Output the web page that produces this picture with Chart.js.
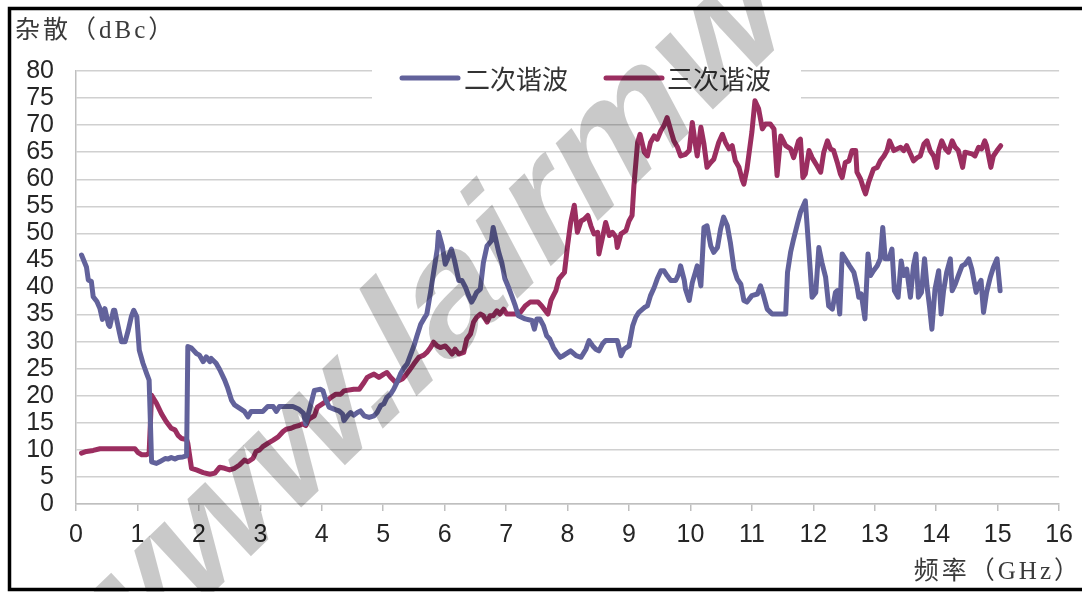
<!DOCTYPE html>
<html>
<head>
<meta charset="utf-8">
<script src="https://cdn.jsdelivr.net/npm/chart.js@4.4.1/dist/chart.umd.min.js"></script>
<style>
html,body{margin:0;padding:0;background:#fff;}
#wrap{width:1082px;height:592px;position:relative;}
canvas{display:block;}
</style>
</head>
<body>
<div id="wrap"><canvas id="c" width="1082" height="592"></canvas></div>
<script>
// ---- data ----
const seriesNames = ['二次谐波', '三次谐波'];
const yTitle = '杂散（dBc）';
const xTitle = '频率（GHz）';
const watermarkText = 'www.lairmw';

const freq2 = [0.09,0.17,0.20,0.25,0.28,0.34,0.39,0.43,0.47,0.53,0.55,0.61,0.63,0.71,0.74,0.80,0.85,0.90,0.94,0.99,
1.03,1.09,1.15,1.19,1.23,1.31,1.36,1.45,1.50,1.55,1.61,1.66,1.74,1.80,1.82,1.88,1.96,2.01,2.07,2.12,
2.18,2.20,2.28,2.34,2.42,2.47,2.53,2.58,2.66,2.74,2.80,2.85,3.04,3.12,3.21,3.26,3.31,3.53,3.63,3.70,
3.74,3.79,3.88,3.98,4.02,4.06,4.12,4.23,4.28,4.34,4.36,4.42,4.47,4.52,4.58,4.63,4.69,4.77,4.85,4.90,
4.96,5.01,5.06,5.12,5.17,5.23,5.28,5.34,5.39,5.44,5.50,5.55,5.61,5.66,5.71,5.77,5.82,5.88,5.90,5.96,
6.01,6.06,6.11,6.16,6.23,6.28,6.34,6.39,6.44,6.47,6.52,6.58,6.63,6.69,6.76,6.79,6.83,6.88,6.93,6.98,
7.04,7.09,7.15,7.20,7.31,7.42,7.46,7.50,7.55,7.61,7.66,7.71,7.77,7.82,7.88,7.93,8.05,8.14,8.22,8.30,
8.35,8.41,8.46,8.51,8.57,8.62,8.81,8.87,8.92,9.00,9.06,9.11,9.16,9.25,9.30,9.35,9.41,9.46,9.52,9.57,
9.62,9.68,9.76,9.81,9.84,9.90,9.92,9.98,10.03,10.08,10.11,10.14,10.17,10.22,10.27,10.33,10.38,10.44,10.49,10.54,
10.60,10.65,10.71,10.76,10.82,10.87,10.92,11.00,11.09,11.14,11.19,11.25,11.33,11.55,11.58,11.63,11.68,11.74,11.79,11.87,
11.93,11.98,12.04,12.09,12.14,12.20,12.25,12.31,12.36,12.39,12.43,12.47,12.52,12.59,12.66,12.71,12.74,12.78,12.84,12.89,
12.93,12.98,13.04,13.09,13.13,13.17,13.23,13.28,13.32,13.38,13.43,13.47,13.52,13.58,13.63,13.67,13.71,13.76,13.81,13.85,
13.89,13.93,13.98,14.04,14.08,14.12,14.17,14.23,14.26,14.31,14.36,14.42,14.47,14.53,14.58,14.65,14.69,14.73,14.77,14.82,
14.88,14.93,14.99,15.04];
const harm2 = [46.0,43.8,41.4,41.1,38.3,37.4,36.1,34.1,36.1,33.1,32.8,35.8,35.8,31.5,30.0,30.0,32.1,34.6,35.8,34.6,
28.4,26.0,24.1,22.9,7.8,7.5,7.8,8.4,8.3,8.6,8.3,8.6,8.7,8.9,29.1,28.8,27.8,27.5,26.3,27.2,
26.3,26.9,26.0,24.8,22.9,21.4,19.2,18.3,17.7,17.1,16.1,17.1,17.1,18.0,18.0,17.1,18.0,18.0,17.5,16.8,
14.8,17.0,21.0,21.2,20.9,19.4,17.9,17.4,17.2,16.6,15.4,16.3,16.9,16.4,16.9,17.2,16.3,16.0,16.3,16.9,
18.2,18.5,19.7,20.3,21.2,22.6,24.0,25.2,25.9,27.4,29.2,31.1,33.2,34.2,35.1,39.1,42.8,47.1,50.2,47.7,
44.3,45.6,47.1,45.0,41.3,41.3,40.0,38.5,37.3,37.9,39.1,39.7,44.6,47.7,48.6,51.1,49.0,46.5,44.6,41.6,
40.0,38.5,36.6,34.8,34.2,33.9,32.3,34.2,34.2,32.9,31.1,30.5,28.9,28.0,27.1,27.4,28.3,27.4,27.1,28.6,
30.2,29.2,28.6,28.3,29.6,30.2,30.2,27.4,28.6,29.2,32.9,34.5,35.4,36.3,36.6,38.5,40.0,41.6,43.1,43.1,
42.2,41.3,41.3,42.5,44.0,41.3,39.7,37.6,40.9,42.8,44.0,42.2,40.3,51.1,51.4,47.7,46.5,47.4,50.8,53.0,
51.4,48.3,43.4,41.6,40.6,37.6,37.3,38.5,38.8,40.3,38.5,36.0,35.1,35.1,42.8,46.5,49.0,51.7,53.9,56.0,
46.5,38.2,39.1,47.4,44.6,41.9,36.6,36.0,39.1,39.4,35.1,46.2,45.3,44.0,42.8,40.3,38.2,38.8,34.2,46.2,
42.2,43.1,44.0,45.3,51.1,45.3,45.3,47.1,39.4,38.2,44.9,42.2,43.4,38.2,44.0,46.2,38.2,39.1,45.3,40.3,
36.6,32.3,39.7,43.1,35.1,39.4,42.8,45.3,39.4,40.6,42.2,44.0,44.3,45.3,43.4,39.1,40.6,41.3,35.4,39.1,
41.9,43.7,45.3,39.4];

const freq3 = [0.09,0.17,0.28,0.39,0.96,1.01,1.07,1.15,1.19,1.23,1.31,1.39,1.47,1.55,1.61,1.66,1.72,1.80,1.82,1.88,
1.96,2.07,2.18,2.26,2.34,2.42,2.50,2.58,2.66,2.74,2.80,2.88,2.93,2.99,3.04,3.12,3.21,3.29,3.37,3.42,
3.50,3.56,3.63,3.69,3.74,3.79,3.88,3.93,4.01,4.09,4.15,4.23,4.31,4.36,4.52,4.61,4.69,4.74,4.79,4.85,
4.93,5.01,5.06,5.12,5.20,5.25,5.31,5.36,5.42,5.50,5.58,5.66,5.71,5.77,5.82,5.88,5.93,6.01,6.06,6.12,
6.17,6.23,6.31,6.36,6.42,6.47,6.52,6.58,6.63,6.69,6.74,6.79,6.85,6.90,6.96,7.01,7.17,7.23,7.31,7.39,
7.52,7.58,7.68,7.73,7.81,7.86,7.95,8.00,8.05,8.11,8.16,8.22,8.27,8.33,8.38,8.43,8.49,8.51,8.57,8.62,
8.68,8.73,8.79,8.81,8.87,8.95,9.00,9.05,9.08,9.14,9.18,9.25,9.30,9.35,9.41,9.46,9.52,9.57,9.62,9.68,
9.73,9.79,9.84,9.92,9.98,10.03,10.08,10.11,10.17,10.22,10.27,10.33,10.38,10.46,10.52,10.57,10.63,10.68,10.73,10.79,
10.84,10.87,10.92,11.00,11.05,11.11,11.17,11.22,11.30,11.36,11.41,11.47,11.55,11.63,11.68,11.76,11.79,11.83,11.87,11.93,
11.98,12.06,12.12,12.17,12.23,12.28,12.33,12.39,12.44,12.47,12.52,12.58,12.63,12.69,12.71,12.77,12.82,12.85,12.90,12.98,
13.04,13.09,13.15,13.20,13.24,13.31,13.36,13.42,13.47,13.52,13.58,13.63,13.69,13.74,13.80,13.85,13.90,13.96,14.01,14.04,
14.09,14.15,14.20,14.26,14.31,14.36,14.43,14.47,14.58,14.63,14.69,14.74,14.79,14.82,14.89,14.93,14.99,15.05];
const harm3 = [9.4,9.7,9.9,10.2,10.2,9.5,9.1,9.1,9.4,20.1,18.6,16.7,15.2,14.0,13.7,12.7,12.1,11.9,11.2,6.6,
6.3,5.8,5.5,5.7,6.8,6.6,6.3,6.6,7.2,8.1,7.8,8.4,9.7,10.0,10.6,11.2,11.8,12.4,13.4,13.8,
14.0,14.3,14.5,14.8,14.5,15.7,16.3,17.9,18.5,19.1,19.7,20.3,20.3,20.9,21.2,21.2,22.5,23.4,23.7,24.0,
23.4,24.0,24.3,23.4,22.5,22.8,23.1,23.7,24.6,25.9,27.1,27.5,28.0,28.9,29.9,29.2,28.9,29.2,28.6,27.7,
28.6,27.7,28.0,30.5,31.4,33.6,34.5,35.1,34.8,33.6,34.8,34.8,35.7,35.1,36.0,35.1,35.1,35.4,36.6,37.3,
37.3,36.6,35.1,37.6,39.4,41.6,42.8,47.7,52.0,55.2,50.2,52.3,52.6,53.3,51.4,49.9,50.2,46.2,49.3,52.0,
49.6,50.2,49.3,47.4,49.9,50.5,52.3,53.3,58.8,66.8,68.3,65.0,64.3,66.8,68.0,67.4,69.0,69.9,71.4,69.0,
67.1,65.9,64.3,64.6,65.3,70.5,66.5,64.3,69.6,66.5,62.2,63.1,63.7,66.8,68.3,66.8,65.6,66.2,63.4,62.2,
60.0,59.1,61.9,68.7,74.5,73.0,69.3,70.2,70.2,69.3,60.7,68.0,66.2,65.6,64.0,67.1,67.4,60.3,61.0,65.3,
64.0,62.5,61.3,65.0,67.1,65.6,65.3,63.1,61.0,60.3,63.1,63.4,65.3,65.3,61.3,60.0,58.2,57.3,59.4,61.9,
62.2,63.4,64.3,65.3,67.1,65.3,65.6,65.9,65.3,66.2,64.7,63.4,64.0,64.3,66.5,67.1,65.3,64.3,62.2,65.3,
67.1,65.6,65.0,67.1,65.9,65.3,62.2,65.0,64.7,64.3,65.9,65.6,67.1,66.2,62.2,64.3,65.3,66.2];

const xTicks = [0,1,2,3,4,5,6,7,8,9,10,11,12,13,14,15,16];
const yTicks = [0,5,10,15,20,25,30,35,40,45,50,55,60,65,70,75,80];

const colors = ['#62629b', '#9b2e60'];

const toPts = (xs, ys) => xs.map((x, i) => ({x: x, y: ys[i]}));

const deco = {
  id: 'deco',
  beforeDatasetsDraw(chart) {
    const ctx = chart.ctx;
    ctx.save();
    ctx.fillStyle = '#ffffff';
    ctx.fillRect(372, 58, 429, 44);
    ctx.restore();
  },
  afterDraw(chart) {
    const ctx = chart.ctx;
    ctx.save();
    // axis titles
    ctx.fillStyle = '#3a3a3a';
    ctx.textBaseline = 'middle';
    ctx.textAlign = 'left';
    ctx.font = '25px "Liberation Serif", "Noto Sans CJK SC", serif';
    ctx.letterSpacing = '3px';
    ctx.fillText(yTitle, 15, 31);
    ctx.textAlign = 'right';
    ctx.fillText(xTitle, 1082, 572);
    ctx.letterSpacing = '0px';
    // legend
    const items = [{x: 402, tx: 464}, {x: 606, tx: 667}];
    ctx.textAlign = 'left';
    ctx.font = '26px "Noto Sans CJK SC", sans-serif';
    items.forEach((it, i) => {
      ctx.strokeStyle = colors[i];
      ctx.lineWidth = 5;
      ctx.lineCap = 'round';
      ctx.beginPath();
      ctx.moveTo(it.x, 78);
      ctx.lineTo(it.x + 56, 78);
      ctx.stroke();
      ctx.fillStyle = '#333333';
      ctx.fillText(seriesNames[i], it.tx, 79);
    });
    // watermark
    ctx.save();
    ctx.setTransform(0.719, -0.695, 0.469, 0.883, 97, 705);
    ctx.font = 'bold 168px "Liberation Sans", Arial, sans-serif';
    ctx.fillStyle = 'rgba(0,0,0,0.21)';
    ctx.textAlign = 'left';
    ctx.textBaseline = 'alphabetic';
    ctx.fillText(watermarkText, 0, 0);
    ctx.restore();
    // frame
    ctx.strokeStyle = '#000';
    ctx.lineWidth = 3.5;
    ctx.strokeRect(9.5, 8.5, 1100, 581);
    ctx.restore();
  }
};

new Chart(document.getElementById('c'), {
  type: 'line',
  data: {
    datasets: [
      {label: seriesNames[0], data: toPts(freq2, harm2), borderColor: colors[0], backgroundColor: colors[0],
       borderWidth: 5, pointRadius: 0, tension: 0, borderJoinStyle: 'round', borderCapStyle: 'round'},
      {label: seriesNames[1], data: toPts(freq3, harm3), borderColor: colors[1], backgroundColor: colors[1],
       borderWidth: 5, pointRadius: 0, tension: 0, borderJoinStyle: 'round', borderCapStyle: 'round'}
    ]
  },
  options: {
    responsive: false,
    animation: false,
    devicePixelRatio: 1,
    layout: {padding: {left: 0, right: 19, top: 71, bottom: 0}},
    plugins: {legend: {display: false}, tooltip: {enabled: false}, title: {display: false}},
    scales: {
      x: {
        type: 'linear', min: 0, max: 16,
        afterFit: s => { s.height = 88; },
        afterBuildTicks: s => { s.ticks = xTicks.map(v => ({value: v})); },
        ticks: {font: {family: '"Liberation Sans", Arial, sans-serif', size: 25}, color: '#262626', padding: 9, maxRotation: 0, autoSkip: false},
        grid: {drawOnChartArea: false, drawTicks: true, tickLength: 7, color: '#bfbfbf', lineWidth: 1.5},
        border: {display: true, color: '#bfbfbf', width: 1.5}
      },
      y: {
        min: 0, max: 80,
        afterFit: s => { s.width = 76; },
        afterBuildTicks: s => { s.ticks = yTicks.map(v => ({value: v})); },
        ticks: {font: {family: '"Liberation Sans", Arial, sans-serif', size: 25}, color: '#262626', padding: 22, autoSkip: false},
        grid: {drawTicks: false, color: '#d0d0d0', lineWidth: 1.5},
        border: {display: true, color: '#bfbfbf', width: 1.5}
      }
    }
  },
  plugins: [deco]
});
</script>
</body>
</html>
